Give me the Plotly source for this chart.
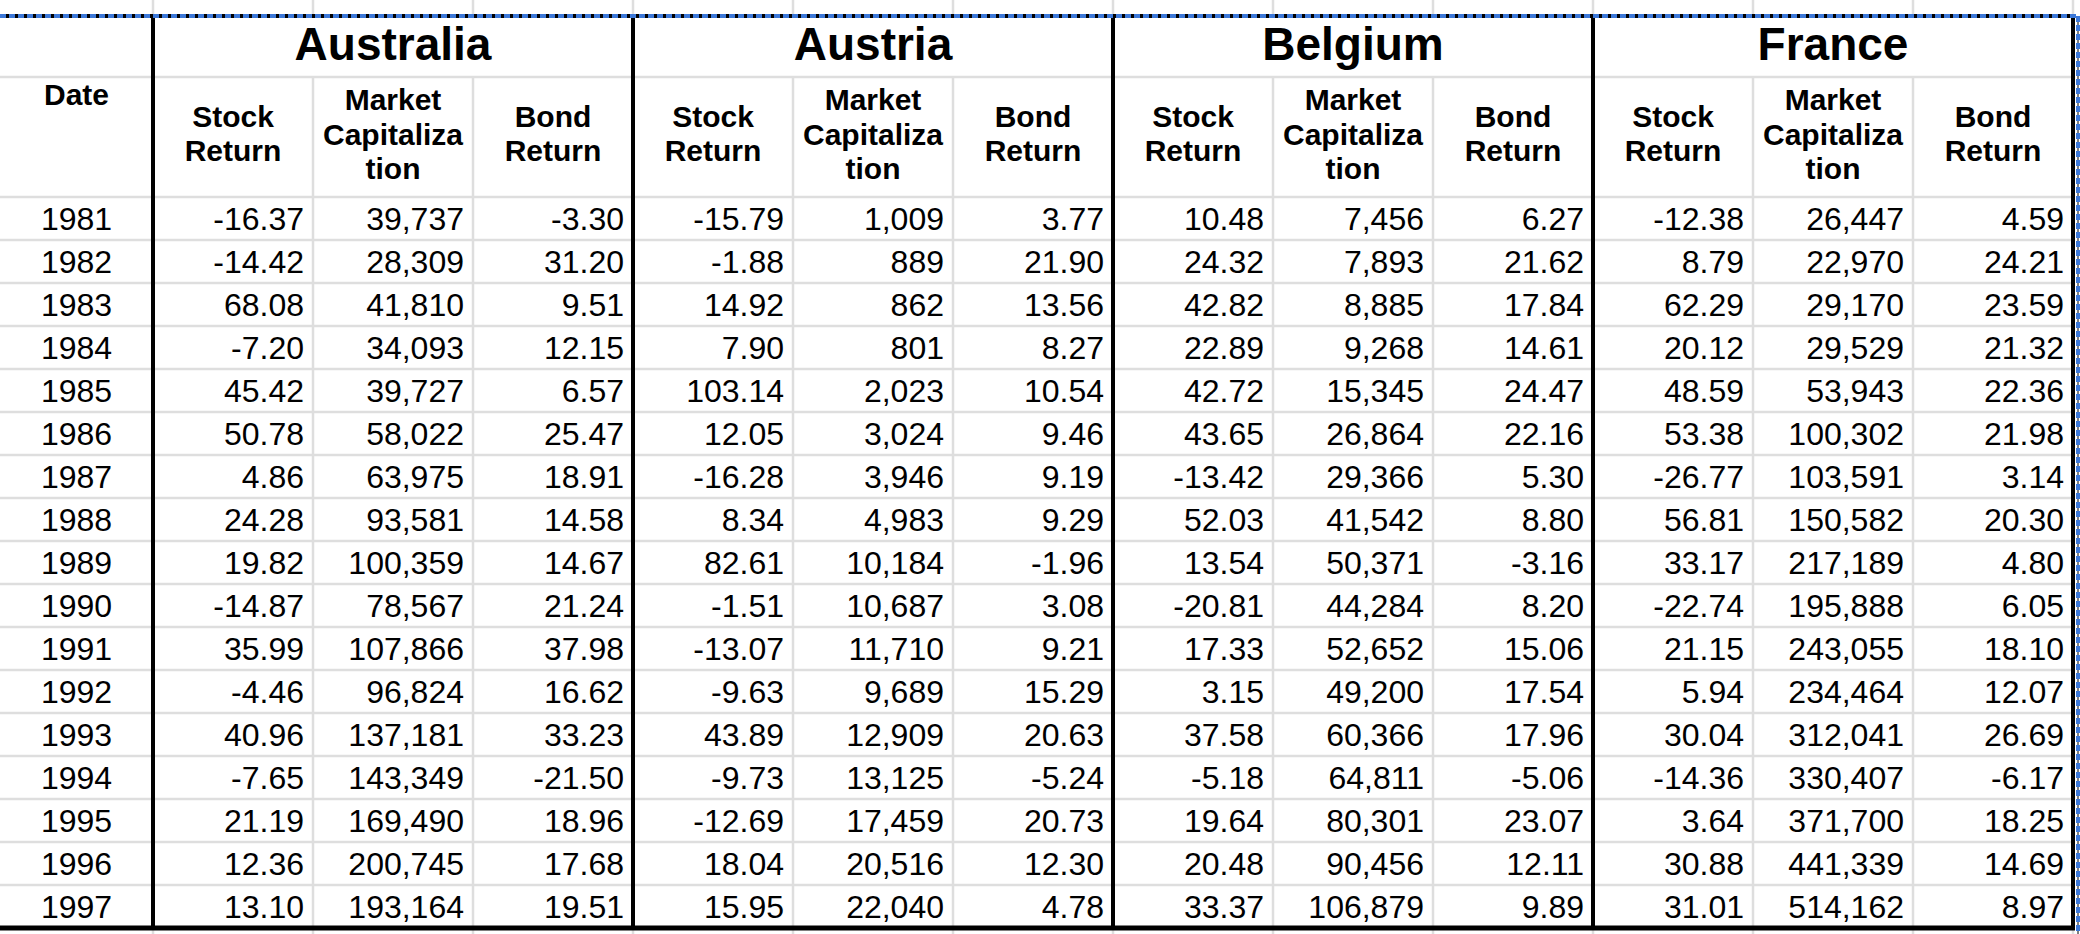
import plotly.graph_objects as go

# table content
countries = ['Australia', 'Austria', 'Belgium', 'France']
years = ['1981', '1982', '1983', '1984', '1985', '1986', '1987', '1988', '1989',
         '1990', '1991', '1992', '1993', '1994', '1995', '1996', '1997']

australia_stock = [-16.37, -14.42, 68.08, -7.20, 45.42, 50.78, 4.86, 24.28, 19.82,
                   -14.87, 35.99, -4.46, 40.96, -7.65, 21.19, 12.36, 13.10]
australia_mcap = [39737, 28309, 41810, 34093, 39727, 58022, 63975, 93581, 100359,
                  78567, 107866, 96824, 137181, 143349, 169490, 200745, 193164]
australia_bond = [-3.30, 31.20, 9.51, 12.15, 6.57, 25.47, 18.91, 14.58, 14.67,
                  21.24, 37.98, 16.62, 33.23, -21.50, 18.96, 17.68, 19.51]

austria_stock = [-15.79, -1.88, 14.92, 7.90, 103.14, 12.05, -16.28, 8.34, 82.61,
                 -1.51, -13.07, -9.63, 43.89, -9.73, -12.69, 18.04, 15.95]
austria_mcap = [1009, 889, 862, 801, 2023, 3024, 3946, 4983, 10184,
                10687, 11710, 9689, 12909, 13125, 17459, 20516, 22040]
austria_bond = [3.77, 21.90, 13.56, 8.27, 10.54, 9.46, 9.19, 9.29, -1.96,
                3.08, 9.21, 15.29, 20.63, -5.24, 20.73, 12.30, 4.78]

belgium_stock = [10.48, 24.32, 42.82, 22.89, 42.72, 43.65, -13.42, 52.03, 13.54,
                 -20.81, 17.33, 3.15, 37.58, -5.18, 19.64, 20.48, 33.37]
belgium_mcap = [7456, 7893, 8885, 9268, 15345, 26864, 29366, 41542, 50371,
                44284, 52652, 49200, 60366, 64811, 80301, 90456, 106879]
belgium_bond = [6.27, 21.62, 17.84, 14.61, 24.47, 22.16, 5.30, 8.80, -3.16,
                8.20, 15.06, 17.54, 17.96, -5.06, 23.07, 12.11, 9.89]

france_stock = [-12.38, 8.79, 62.29, 20.12, 48.59, 53.38, -26.77, 56.81, 33.17,
                -22.74, 21.15, 5.94, 30.04, -14.36, 3.64, 30.88, 31.01]
france_mcap = [26447, 22970, 29170, 29529, 53943, 100302, 103591, 150582, 217189,
               195888, 243055, 234464, 312041, 330407, 371700, 441339, 514162]
france_bond = [4.59, 24.21, 23.59, 21.32, 22.36, 21.98, 3.14, 20.30, 4.80,
               6.05, 18.10, 12.07, 26.69, -6.17, 18.25, 14.69, 8.97]

country_cols = [
    (australia_stock, australia_mcap, australia_bond),
    (austria_stock, austria_mcap, austria_bond),
    (belgium_stock, belgium_mcap, belgium_bond),
    (france_stock, france_mcap, france_bond),
]
sub_headers = [['Stock', 'Return'], ['Market', 'Capitaliza', 'tion'], ['Bond', 'Return']]

# sheet geometry (pixels)
W, H = 2080, 934
DATE_W, COL_W = 153, 160
TOP, TITLE_B, HEAD_B, ROW_H = 16, 77, 197, 43
bounds = [0, DATE_W] + [DATE_W + COL_W * (i + 1) for i in range(12)]
right = bounds[-1]
bottom = HEAD_B + ROW_H * len(years)
GRID = '#dedede'
FONT = 'Liberation Sans, Arial, sans-serif'

fig = go.Figure()

def add_text(xs, ys, texts, pos, size, bold=False):
    fig.add_trace(go.Scatter(
        x=xs, y=ys, text=texts, mode='text', textposition=pos, hoverinfo='skip',
        showlegend=False,
        textfont=dict(family=FONT, size=size, color='black',
                      weight='bold' if bold else 'normal')))

row_y = [HEAD_B + ROW_H * i + 25 for i in range(len(years))]

# year column
add_text([DATE_W / 2] * len(years), row_y, years, 'middle center', 32)
add_text([DATE_W / 2], [97], ['Date'], 'middle center', 30, True)

for c, name in enumerate(countries):
    left = bounds[1 + 3 * c]
    add_text([(left + bounds[4 + 3 * c]) / 2], [48], [name], 'middle center', 46, True)
    for k, vals in enumerate(country_cols[c]):
        x0, x1 = bounds[1 + 3 * c + k], bounds[2 + 3 * c + k]
        if k == 1:
            txt = [f'{v:,}' for v in vals]
        else:
            txt = [f'{v:.2f}' for v in vals]
        add_text([x1 - 9] * len(vals), row_y, txt, 'middle left', 32)
        lines = sub_headers[k]
        if len(lines) == 2:
            ys = [119, 153.5]
        else:
            ys = [102.5, 137, 171.5]
        add_text([(x0 + x1) / 2] * len(lines), ys, lines, 'middle center', 30, True)

shapes = []
def line(x0, y0, x1, y1, color, width, dash=None):
    shapes.append(dict(type='line', x0=x0, y0=y0, x1=x1, y1=y1, xref='x', yref='y',
                       line=dict(color=color, width=width, dash=dash)))

# light sheet grid
for b in bounds[1:]:
    line(b, 0, b, TOP, GRID, 2.5)
    line(b, bottom, b, H, GRID, 2.5)
for yb in [TITLE_B, HEAD_B] + [HEAD_B + ROW_H * i for i in range(1, len(years))]:
    line(0, yb, right, yb, GRID, 2.5)
for i, b in enumerate(bounds[1:-1]):
    if i % 3 != 0:
        line(b, TITLE_B, b, bottom, GRID, 2.5)

# black borders
for i in range(0, 13, 3):
    b = bounds[1 + i]
    line(b, TOP, b, bottom, 'black', 4)
line(0, TOP, right + 2, TOP, 'black', 4)
line(0, bottom, right + 2, bottom, 'black', 5)

# copy-selection marching ants
line(0, TOP, right + 5, TOP, '#3c78d8', 4, '6px,3px')
line(right + 5, TOP, right + 5, H, 'black', 1)
line(right + 5, TOP, right + 5, H, '#3c78d8', 4, '6px,3px')

fig.update_layout(
    width=W, height=H, margin=dict(l=0, r=0, t=0, b=0),
    paper_bgcolor='white', plot_bgcolor='white', shapes=shapes,
    xaxis=dict(range=[0, W], visible=False, fixedrange=True),
    yaxis=dict(range=[H, 0], visible=False, fixedrange=True),
)

fig.write_html('out.html', config={'displayModeBar': False},
               post_script="document.body.style.margin = '0';")
